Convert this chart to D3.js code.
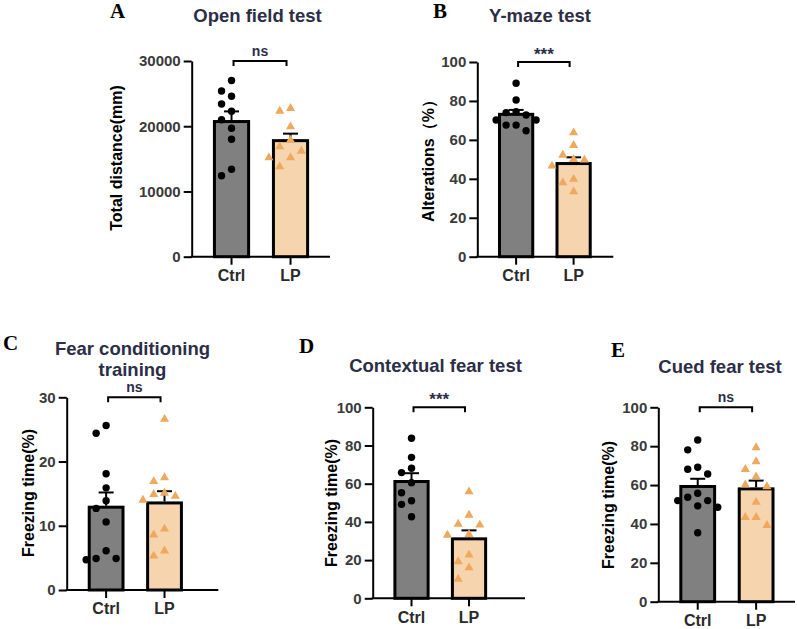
<!DOCTYPE html>
<html><head><meta charset="utf-8">
<script src="https://cdn.jsdelivr.net/npm/d3@7"></script>
<style>
body{margin:0;background:#fff;}
svg{display:block;}
</style></head>
<body>
<svg id="chart" width="797" height="629"></svg>
<script>
// ---------------- data ----------------
const groups = ["Ctrl", "LP"];

const openFieldCtrl = [27000, 25400, 24600, 23400, 22300, 21000, 19700, 18000, 13400, 12400];
const openFieldLP   = [22750, 22330, 19930, 17890, 16860, 16200, 15180, 15180, 13800];

const yMazeCtrl = [89.1, 80.5, 74.5, 74.0, 72.8, 70.2, 70.2, 67.6, 67.6, 64.7];
const yMazeLP   = [63.7, 57.2, 52.2, 50.0, 49.7, 46.6, 39.8, 38.0, 33.4];

const fearTrainCtrl = [25.6, 24.4, 18.1, 15.9, 13.9, 12.7, 10.6, 6.1, 4.9, 4.9, 4.7];
const fearTrainLP   = [26.6, 17.5, 16.9, 15.1, 14.9, 14.6, 14.0, 9.5, 8.6, 6.1, 5.3];

const contextCtrl = [83.8, 73.8, 68.1, 65.8, 60.5, 55.3, 51.1, 49.2, 42.7];
const contextLP   = [55.8, 43.6, 38.9, 38.4, 33.5, 33.1, 22.7, 19.2, 16.0, 10.1];

const cuedCtrl = [83.2, 78.1, 69.2, 68.1, 65.7, 55.8, 53.7, 52.0, 52.0, 49.3, 48.6, 35.5];
const cuedLP   = [79.3, 72.1, 68.1, 64.3, 60.1, 59.2, 51.2, 43.4, 43.4, 39.3];

const ticksA = [0, 10000, 20000, 30000];
const ticks100 = [0, 20, 40, 60, 80, 100];
const ticks30 = [0, 10, 20, 30];

const panels = [
  {letter:"A", title:["Open field test"], ylabel:"Total distance(mm)", max:30000, ticks:ticksA, ctrl:openFieldCtrl, lp:openFieldLP, sig:"ns"},
  {letter:"B", title:["Y-maze test"], ylabel:"Alterations（%）", max:100, ticks:ticks100, ctrl:yMazeCtrl, lp:yMazeLP, sig:"***"},
  {letter:"C", title:["Fear conditioning","training"], ylabel:"Freezing time(%)", max:30, ticks:ticks30, ctrl:fearTrainCtrl, lp:fearTrainLP, sig:"ns"},
  {letter:"D", title:["Contextual fear test"], ylabel:"Freezing time(%)", max:100, ticks:ticks100, ctrl:contextCtrl, lp:contextLP, sig:"***"},
  {letter:"E", title:["Cued fear test"], ylabel:"Freezing time(%)", max:100, ticks:ticks100, ctrl:cuedCtrl, lp:cuedLP, sig:"ns"}
];

// ---------------- layout ----------------
const layout = [
  {ax:191.7, top:61,    bot:256.7, xEnd:330,   step:59,   tx:257.5, ty:22,  lx:110, ly:18,  ylx:122, yly:158},
  {ax:477.3, top:62,    bot:256.7, xEnd:613.3, step:57.5, tx:540,   ty:22,  lx:433, ly:18,  ylx:434, yly:157},
  {ax:66.7,  top:397.3, bot:590,   xEnd:218.3, step:58.4, tx:132.5, ty:355, lx:3,   ly:350, ylx:34,  yly:493},
  {ax:372.7, top:407.3, bot:598.3, xEnd:525,   step:57.5, tx:435.5, ty:372, lx:299, ly:353, ylx:337, yly:503},
  {ax:658.3, top:407.3, bot:601.7, xEnd:795,   step:58.4, tx:720,   ty:373, lx:611, ly:357, ylx:614, yly:505}
];

const FONT = "'Liberation Sans', Arial, sans-serif";
const ctrlFill = "#808080", lpFill = "#f5d4ae", triColor = "#efa85c", titleColor = "#2c2d47";
const svg = d3.select("#chart");

function mean(a){ return d3.mean(a); }
function sem(a){ return d3.deviation(a) / Math.sqrt(a.length); }

// simple dodge (beeswarm-like) placement in columns
function dodge(vals, y, r){
  const placed = [];
  const step = 2.7*r;
  const order = [0,-1,1,-2,2,-3,3];
  return vals.map(v => {
    const py = y(v);
    let off = 0;
    for (const k of order){
      const px = k*step;
      if (placed.every(p => Math.abs(p[0]-px) > 0.5*step || Math.abs(p[1]-py) >= 2.9*r)) { off = px; break; }
    }
    placed.push([off, py]);
    return {v, dx: off, y: py};
  });
}

panels.forEach((p, i) => {
  const L = layout[i];
  const g = svg.append("g");
  const y = d3.scaleLinear().domain([0, p.max]).range([L.bot, L.top]);
  const W = L.step * 2.35;
  const x = d3.scaleBand().domain(groups).range([L.ax, L.ax + W]).paddingInner(0.37).paddingOuter(0.36);

  // letter
  g.append("text").attr("x", L.lx).attr("y", L.ly).text(p.letter)
    .attr("font-family", "'Liberation Serif', 'Times New Roman', serif").attr("font-weight", "bold")
    .attr("font-size", 21).attr("fill", "#000");
  // title
  p.title.forEach((t, k) => {
    g.append("text").attr("x", L.tx).attr("y", L.ty + k*20.5).attr("text-anchor", "middle").text(t)
      .attr("font-family", FONT).attr("font-weight", "bold").attr("font-size", 18.5).attr("fill", titleColor);
  });
  // y label
  g.append("text").attr("transform", `translate(${L.ylx},${L.yly}) rotate(-90)`).attr("text-anchor", "middle")
    .text(p.ylabel).attr("font-family", FONT).attr("font-weight", "bold").attr("font-size", 16).attr("fill", "#000");

  // y axis
  const yAxis = g.append("g").attr("transform", `translate(${L.ax},0)`)
    .call(d3.axisLeft(y).tickValues(p.ticks).tickSize(8).tickSizeOuter(0).tickPadding(3).tickFormat(d3.format("d")));
  yAxis.select(".domain").attr("stroke", "#000").attr("stroke-width", 2);
  yAxis.selectAll(".tick line").attr("stroke", "#000").attr("stroke-width", 2);
  yAxis.selectAll(".tick text").attr("font-family", FONT).attr("font-weight", "bold").attr("font-size", 15).attr("fill", "#3a3a3a");

  // x axis
  const xAxis = g.append("g").attr("transform", `translate(0,${L.bot})`)
    .call(d3.axisBottom(x).tickSize(8).tickSizeOuter(0).tickPadding(5));
  xAxis.select(".domain").remove();
  xAxis.selectAll(".tick line").attr("stroke", "#000").attr("stroke-width", 2);
  xAxis.selectAll(".tick text").attr("font-family", FONT).attr("font-weight", "bold").attr("font-size", 16).attr("fill", "#2a2a2a");
  g.append("line").attr("x1", L.ax - 1).attr("x2", L.xEnd).attr("y1", L.bot).attr("y2", L.bot)
    .attr("stroke", "#000").attr("stroke-width", 2);

  const sets = [{key:"Ctrl", vals:p.ctrl, fill:ctrlFill}, {key:"LP", vals:p.lp, fill:lpFill}];

  // bars
  sets.forEach(s => {
    const m = mean(s.vals);
    g.append("rect").attr("x", x(s.key) + 1.5).attr("width", x.bandwidth() - 3)
      .attr("y", y(m)).attr("height", L.bot - y(m))
      .attr("fill", s.fill).attr("stroke", "#000").attr("stroke-width", 3);
  });
  // error bars (upper SEM)
  sets.forEach(s => {
    const m = mean(s.vals), e = sem(s.vals);
    const cx = x(s.key) + x.bandwidth()/2;
    g.append("line").attr("x1", cx).attr("x2", cx).attr("y1", y(m) - 1.5).attr("y2", y(m + e))
      .attr("stroke", "#000").attr("stroke-width", 2);
    g.append("line").attr("x1", cx - 7.5).attr("x2", cx + 7.5).attr("y1", y(m + e)).attr("y2", y(m + e))
      .attr("stroke", "#000").attr("stroke-width", 2);
  });
  // points
  const cxC = x("Ctrl") + x.bandwidth()/2;
  dodge(p.ctrl, y, 3.7).forEach(d => {
    g.append("circle").attr("cx", cxC + d.dx).attr("cy", d.y).attr("r", 3.7).attr("fill", "#000");
  });
  const cxL = x("LP") + x.bandwidth()/2;
  const tri = d3.symbol().type(d3.symbolTriangle).size(36);
  dodge(p.lp, y, 4).forEach(d => {
    g.append("path").attr("d", tri()).attr("transform", `translate(${cxL + d.dx},${d.y})`).attr("fill", triColor);
  });

  // significance bracket
  const by = y(p.max);
  const bx1 = cxC + 2, bx2 = cxL - 4;
  g.append("path").attr("d", `M${bx1},${by+5}V${by}H${bx2}V${by+5}`)
    .attr("fill", "none").attr("stroke", "#000").attr("stroke-width", 2);
  g.append("text").attr("x", (bx1 + bx2)/2).attr("y", p.sig === "ns" ? by - 5 : by - 2).attr("text-anchor", "middle")
    .text(p.sig).attr("font-family", FONT).attr("font-weight", "bold")
    .attr("font-size", p.sig === "ns" ? 14 : 17).attr("fill", titleColor);
});
</script>
</body></html>
